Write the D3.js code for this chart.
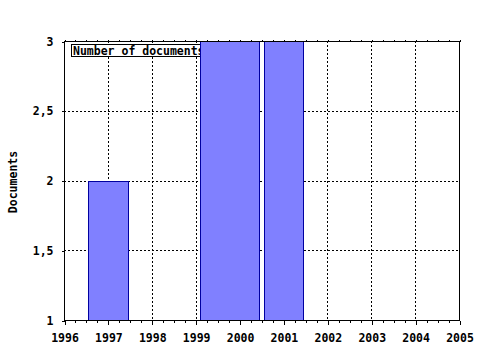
<!DOCTYPE html>
<html><head><meta charset="utf-8">
<script src="https://cdn.jsdelivr.net/npm/d3@7"></script>
<style>
body{margin:0;background:#fff;}
text{font-family:"DejaVu Sans Mono",monospace;font-weight:bold;font-size:11.5px;fill:#000;}
</style></head><body>
<svg id="c" width="480" height="350"></svg>
<script>
const categories = ["1997", "2000", "2001"];
const barStart = [1996.55, 1999.11, 2000.56];
const barEnd = [1997.45, 2000.45, 2001.45];
const values = [2, 3, 3];
const xTicks = [1996, 1997, 1998, 1999, 2000, 2001, 2002, 2003, 2004, 2005];
const yTicks = [1, 1.5, 2, 2.5, 3];
const yLabels = ["1", "1,5", "2", "2,5", "3"];
const legendLabel = "Number of documents";
const yTitle = "Documents";

const svg = d3.select("#c");
const L = 64, R = 459, T = 41, B = 320;
const x = d3.scaleLinear().domain([1996, 2005]).range([L, R]);
const y = d3.scaleLinear().domain([1, 3]).range([B, T]);

// grid
const g = svg.append("g").attr("stroke", "#000").attr("stroke-dasharray", "2,2").attr("shape-rendering", "crispEdges");
xTicks.slice(1, -1).forEach(v => g.append("line").attr("x1", Math.round(x(v)) + 0.5).attr("x2", Math.round(x(v)) + 0.5).attr("y1", T).attr("y2", B));
yTicks.slice(1, -1).forEach(v => g.append("line").attr("y1", Math.round(y(v)) + 0.5).attr("y2", Math.round(y(v)) + 0.5).attr("x1", L).attr("x2", R));

// legend box
const lg = svg.append("g");
lg.append("rect").attr("x", 71.5).attr("y", 44.5).attr("width", 137).attr("height", 12).attr("fill", "#fff").attr("stroke", "#000").attr("shape-rendering", "crispEdges");
lg.append("text").attr("x", 73).attr("y", 55).text(legendLabel);

// bars
svg.append("g").selectAll("rect").data(values).join("rect")
  .attr("x", (d, i) => Math.round(x(barStart[i])) + 0.5)
  .attr("width", (d, i) => Math.round(x(barEnd[i])) - Math.round(x(barStart[i])))
  .attr("y", d => Math.round(y(d)) + 0.5)
  .attr("height", d => Math.round(y(1)) - Math.round(y(d)))
  .attr("fill", "#8080ff").attr("stroke", "#0000a0").attr("shape-rendering", "crispEdges");

// frame
svg.append("rect").attr("x", L + 0.5).attr("y", T + 0.5).attr("width", R - L).attr("height", B - T)
  .attr("fill", "none").attr("stroke", "#000").attr("shape-rendering", "crispEdges");

// minor ticks
const minor = [];
for (let yr = 1996; yr < 2005; yr++) for (let q = 1; q < 4; q++) minor.push(yr + q / 4);

const axB = svg.append("g").attr("transform", `translate(0.5,${B + 0.5})`)
  .call(d3.axisBottom(x).tickValues(xTicks).tickSize(4).tickFormat(d3.format("d")).tickPadding(9));
const axBm = svg.append("g").attr("transform", `translate(0.5,${B + 0.5})`)
  .call(d3.axisBottom(x).tickValues(minor).tickSize(2).tickFormat(""));
const axT = svg.append("g").attr("transform", `translate(0.5,${T + 0.5})`)
  .call(d3.axisTop(x).tickValues(minor.concat(xTicks)).tickSize(2).tickFormat(""));
const axL = svg.append("g").attr("transform", `translate(${L + 0.5},0.5)`)
  .call(d3.axisLeft(y).tickValues(yTicks).tickSize(3).tickFormat((d, i) => yLabels[i]).tickPadding(8));
[axB, axBm, axT, axL].forEach(a => {
  a.select(".domain").remove();
  a.attr("font-family", null).attr("font-size", null);
  a.selectAll("line").attr("stroke", "#000").attr("shape-rendering", "crispEdges");
  a.selectAll("text").attr("fill", "#000");
});

// y title
svg.append("text").attr("transform", "translate(17,182) rotate(-90)").attr("text-anchor", "middle").text(yTitle);
</script>
</body></html>
